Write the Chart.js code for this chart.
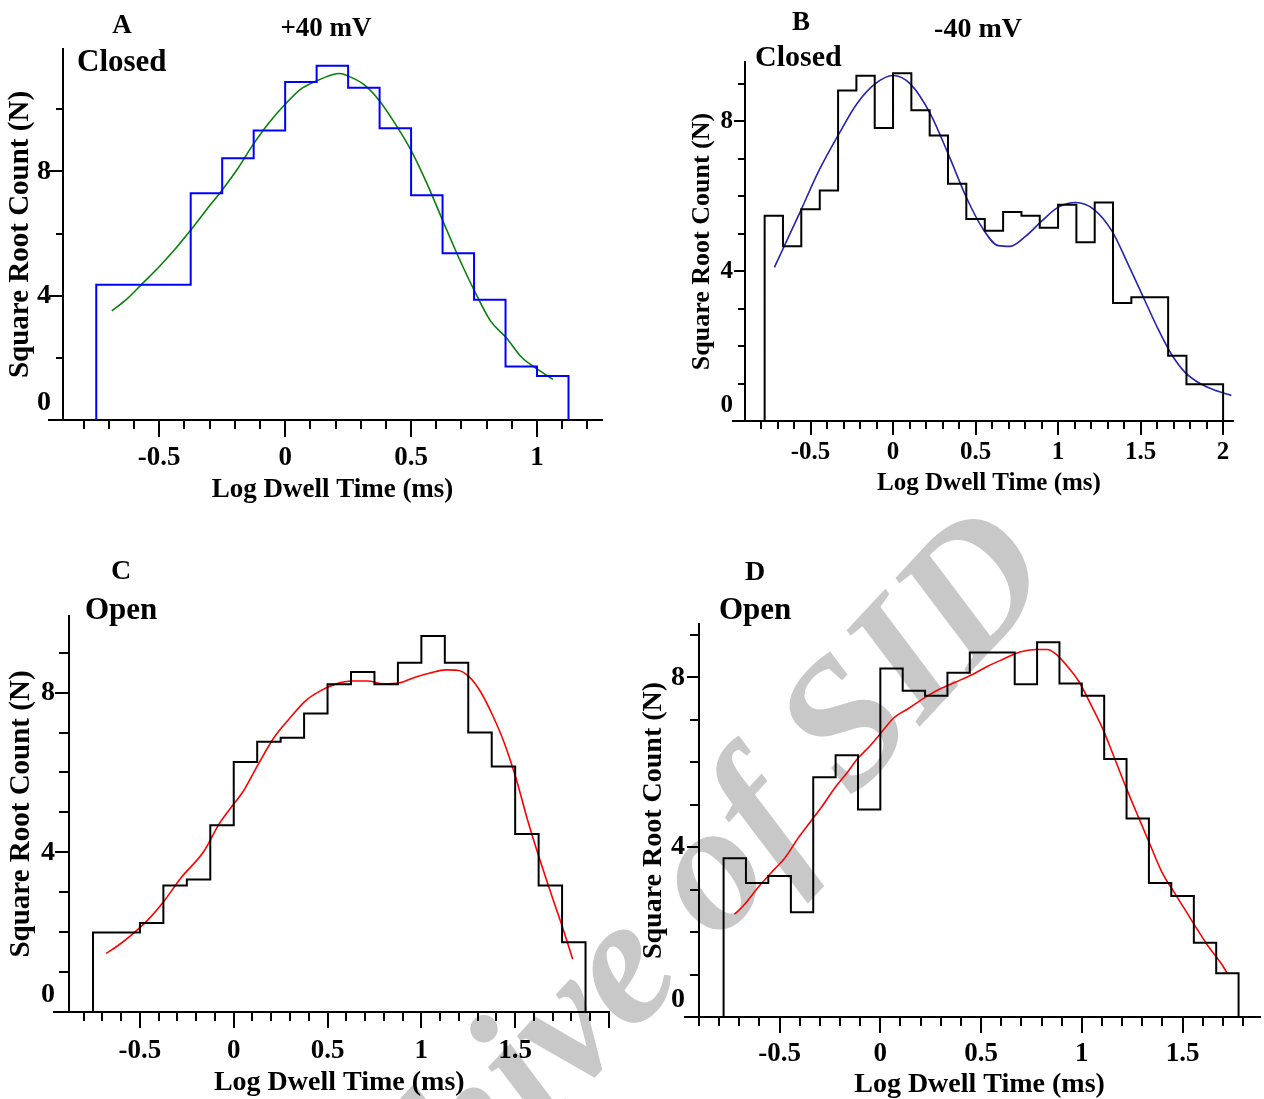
<!DOCTYPE html>
<html>
<head>
<meta charset="utf-8">
<title>Dwell time histograms</title>
<script src="https://cdn.jsdelivr.net/npm/chart.js@4.4.0/dist/chart.umd.min.js"></script>
<style>
  html, body { margin: 0; padding: 0; background: #fff; }
  body { width: 1264px; height: 1099px; position: relative; overflow: hidden; font-family: "Liberation Serif", "Times New Roman", serif; }
  canvas { position: absolute; }
  .lbl { position: absolute; font-weight: bold; line-height: 1; color: #000; white-space: nowrap; }
  .c { transform: translate(-50%, -50%); }
  .l { transform: translateY(-50%); }
  #mark { position: absolute; left: 628px; top: 950px; transform: translate(-50%, -50%) rotate(-47deg);
          font: italic bold 182px "Liberation Serif", serif; color: #c8c8c8; white-space: nowrap; line-height: 1; }
</style>
</head>
<body>
<div id="mark">Archive of SID</div>

<canvas id="chartA" width="632" height="520" style="left:0;top:0"></canvas>
<canvas id="chartB" width="632" height="520" style="left:632px;top:0"></canvas>
<canvas id="chartC" width="632" height="579" style="left:0;top:520px"></canvas>
<canvas id="chartD" width="632" height="579" style="left:632px;top:520px"></canvas>

<div class="lbl c" style="left:122px;top:24px;font-size:27px">A</div>
<div class="lbl c" style="left:326px;top:27px;font-size:27px">+40 mV</div>
<div class="lbl l" style="left:77px;top:60px;font-size:31px">Closed</div>
<div class="lbl c" style="left:801px;top:21px;font-size:27px">B</div>
<div class="lbl c" style="left:978px;top:28px;font-size:28px">-40 mV</div>
<div class="lbl l" style="left:755px;top:56px;font-size:30px">Closed</div>
<div class="lbl c" style="left:121px;top:570px;font-size:28px">C</div>
<div class="lbl l" style="left:85px;top:608px;font-size:31px">Open</div>
<div class="lbl c" style="left:755px;top:571px;font-size:28px">D</div>
<div class="lbl l" style="left:719px;top:608px;font-size:31px">Open</div>

<script>
// ---- data ----
// A: +40 mV closed
const edgesA = [-0.75, -0.375, -0.25, -0.125, 0, 0.125, 0.25, 0.375, 0.5, 0.625, 0.75, 0.875, 1.0, 1.125];
const countsA = [4.35, 7.3, 8.42, 9.32, 10.88, 11.4, 10.69, 9.39, 7.23, 5.37, 3.87, 1.72, 1.42];
const fitXA = [-0.688, -0.63, -0.567, -0.504, -0.441, -0.378, -0.316, -0.253, -0.19, -0.127, -0.064, 0, 0.061, 0.124, 0.187,
  0.218, 0.25, 0.312, 0.375, 0.438, 0.501, 0.564, 0.626, 0.689, 0.752, 0.815, 0.878, 0.94, 1.003, 1.063];
const fitYA = [3.51, 3.88, 4.39, 4.9, 5.46, 6.08, 6.73, 7.37, 8.07, 8.87, 9.57, 10.16, 10.64, 10.91, 11.11,
  11.15, 11.07, 10.8, 10.27, 9.52, 8.66, 7.59, 6.41, 5.23, 4.15, 3.19, 2.65, 2.01, 1.63, 1.31];

// B: -40 mV closed
const edgesB = [-0.778, -0.667, -0.556, -0.444, -0.333, -0.222, -0.111, 0, 0.111, 0.222, 0.333, 0.444, 0.556, 0.667,
  0.778, 0.889, 1.0, 1.111, 1.222, 1.333, 1.444, 1.667, 1.778, 2.0];
const countsB = [5.48, 4.66, 5.65, 6.15, 8.82, 9.21, 7.82, 9.28, 8.29, 7.62, 6.33, 5.39, 5.08, 5.58, 5.48, 5.16,
  5.77, 4.77, 5.83, 3.15, 3.3, 1.74, 0.98];
const fitXB = [-0.719, -0.569, -0.449, -0.328, -0.22, -0.111, 0, 0.106, 0.227, 0.335, 0.444, 0.54, 0.637, 0.709,
  0.806, 0.902, 0.999, 1.107, 1.216, 1.325, 1.433, 1.518, 1.602, 1.687, 1.771, 1.868, 1.964, 2.05];
const fitYB = [4.1, 5.52, 6.68, 7.66, 8.46, 8.99, 9.22, 8.99, 8.19, 7.12, 5.97, 5.16, 4.68, 4.66,
  4.94, 5.34, 5.7, 5.83, 5.65, 5.08, 4.1, 3.29, 2.49, 1.78, 1.29, 0.98, 0.8, 0.68];

// C: +40 mV open
const edgesC = [-0.75, -0.5, -0.375, -0.25, -0.125, 0, 0.125, 0.25, 0.375, 0.5, 0.625, 0.75, 0.875, 1.0, 1.125,
  1.25, 1.375, 1.5, 1.625, 1.75, 1.875];
const countsC = [1.99, 2.23, 3.17, 3.32, 4.68, 6.26, 6.77, 6.87, 7.48, 8.21, 8.52, 8.21, 8.75, 9.42, 8.75,
  7.0, 6.15, 4.46, 3.17, 1.75];
const fitXC = [-0.68, -0.618, -0.535, -0.451, -0.368, -0.285, -0.16, -0.077, 0, 0.048, 0.131, 0.214, 0.297, 0.381,
  0.464, 0.547, 0.63, 0.714, 0.797, 0.88, 0.963, 1.046, 1.13, 1.192, 1.254, 1.317, 1.379, 1.442, 1.504, 1.566,
  1.629, 1.691, 1.754, 1.806];
const fitYC = [1.47, 1.66, 1.97, 2.34, 2.8, 3.34, 4.02, 4.72, 5.21, 5.51, 6.21, 6.87, 7.35, 7.79,
  8.05, 8.22, 8.29, 8.29, 8.22, 8.24, 8.38, 8.49, 8.57, 8.56, 8.4, 8.01, 7.44, 6.74, 5.86, 4.81,
  3.85, 2.97, 2.1, 1.33];

// D: -40 mV open
const edgesD = [-0.778, -0.667, -0.556, -0.444, -0.333, -0.222, -0.111, 0, 0.111, 0.222, 0.333, 0.444, 0.667,
  0.778, 0.889, 1.0, 1.111, 1.222, 1.333, 1.444, 1.556, 1.667, 1.778];
const countsD = [3.74, 3.16, 3.32, 2.47, 5.65, 6.17, 4.89, 8.21, 7.69, 7.57, 8.11, 8.59, 7.84, 8.83, 7.86,
  7.57, 6.08, 4.68, 3.16, 2.85, 1.75, 1.03];
const fitXD = [-0.724, -0.68, -0.602, -0.524, -0.475, -0.406, -0.347, -0.288, -0.229, -0.171, -0.112, -0.053,
  0.006, 0.065, 0.143, 0.222, 0.3, 0.378, 0.457, 0.535, 0.614, 0.692, 0.771, 0.829, 0.869, 0.927, 0.986,
  1.045, 1.104, 1.163, 1.222, 1.28, 1.339, 1.398, 1.457, 1.516, 1.575, 1.633, 1.692, 1.722];
const fitYD = [2.42, 2.62, 3.08, 3.49, 3.74, 4.23, 4.6, 4.97, 5.38, 5.72, 6.09, 6.38,
  6.71, 7.04, 7.28, 7.53, 7.74, 7.9, 8.07, 8.27, 8.44, 8.6, 8.66, 8.66, 8.56, 8.27, 7.9,
  7.36, 6.79, 6.09, 5.38, 4.72, 4.06, 3.41, 2.95, 2.5, 2.05, 1.63, 1.26, 1.03];

// tick labels
const xLabelsA = [-0.5, 0, 0.5, 1];
const xLabelsB = [-0.5, 0, 0.5, 1, 1.5, 2];
const xLabelsC = [-0.5, 0, 0.5, 1, 1.5];
const xLabelsD = [-0.5, 0, 0.5, 1, 1.5];
const yLabels = [0, 4, 8];

const serif = '"Liberation Serif", "Times New Roman", serif';

function near(a, b) { return Math.abs(a - b) < 1e-6; }
function onStep(v, step) { const r = v / step; return Math.abs(r - Math.round(r)) < 1e-6; }

// short/long tick marks drawn on the library's scales, plus the bit of x axis left of the y axis
const tickMarks = {
  id: 'tickMarks',
  afterDraw(chart, args, o) {
    const {ctx, chartArea: a, scales: {x, y}} = chart;
    ctx.save();
    ctx.strokeStyle = '#000';
    ctx.lineWidth = 2;
    ctx.beginPath();
    x.ticks.forEach(t => {
      const px = Math.round(x.getPixelForValue(t.value));
      const len = onStep(t.value, 0.5) ? o.xMajor : o.xMinor;
      ctx.moveTo(px, a.bottom);
      ctx.lineTo(px, a.bottom + len);
    });
    y.ticks.forEach(t => {
      const py = Math.round(y.getPixelForValue(t.value));
      const len = onStep(t.value, 4) ? o.yMajor : o.yMinor;
      ctx.moveTo(a.left, py);
      ctx.lineTo(a.left - len, py);
    });
    ctx.moveTo(a.left - o.stub, a.bottom);
    ctx.lineTo(a.left, a.bottom);
    ctx.stroke();
    ctx.restore();
  }
};

function inRange(s) {
  s.ticks = s.ticks.filter(t => t.value >= s.min - 1e-9 && t.value <= s.max + 1e-9);
}

function panel(id, p) {
  const canvas = document.getElementById(id);
  const W = canvas.width, H = canvas.height;

  // histogram outline as corner points
  const hist = [{x: p.edges[0], y: 0}];
  p.counts.forEach((c, i) => {
    hist.push({x: p.edges[i], y: c});
    hist.push({x: p.edges[i + 1], y: c});
  });
  hist.push({x: p.edges[p.edges.length - 1], y: 0});
  const fit = p.fitX.map((v, i) => ({x: v, y: p.fitY[i]}));

  new Chart(canvas, {
    type: 'line',
    data: {
      datasets: [
        { data: hist, borderColor: p.histColor, borderWidth: 2, pointRadius: 0, fill: false, tension: 0,
          borderJoinStyle: 'miter' },
        { data: fit, borderColor: p.fitColor, borderWidth: 1.6, pointRadius: 0, fill: false,
          cubicInterpolationMode: 'monotone' }
      ]
    },
    options: {
      responsive: false,
      animation: false,
      layout: { padding: { top: p.area.top, right: W - p.area.right, left: 0, bottom: 0 } },
      plugins: {
        legend: { display: false },
        tooltip: { enabled: false },
        tickMarks: p.marks
      },
      scales: {
        x: {
          type: 'linear',
          min: p.xMin, max: p.xMax,
          grid: { display: false, drawTicks: false },
          border: { display: true, color: '#000', width: 2 },
          ticks: {
            stepSize: 0.1, autoSkip: false, includeBounds: false, maxRotation: 0, minRotation: 0,
            padding: p.xTickPad, color: '#000',
            font: { family: serif, size: p.xTickFont, weight: 'bold' },
            callback: v => {
              const hit = p.xLabels.find(l => near(l, v));
              return hit === undefined ? '' : String(hit);
            }
          },
          title: {
            display: true, text: 'Log Dwell Time (ms)', color: '#000',
            font: { family: serif, size: p.xTitleFont, weight: 'bold', lineHeight: 1 },
            padding: { top: 0, bottom: p.xTitlePad }
          },
          afterBuildTicks: inRange,
          afterFit: s => { s.height = H - p.area.bottom; }
        },
        y: {
          type: 'linear',
          min: 0, max: p.yMax,
          grid: { display: false, drawTicks: false },
          border: { display: true, color: '#000', width: 2 },
          ticks: {
            stepSize: p.yStep, autoSkip: false, includeBounds: false,
            padding: p.yTickPad, color: '#000',
            font: { family: serif, size: p.yTickFont, weight: 'bold' },
            callback: v => {
              if (!yLabels.some(l => near(l, v))) return '';
              return v === 0 ? ['0', ''] : String(v);
            }
          },
          title: {
            display: true, text: 'Square Root Count (N)', color: '#000',
            font: { family: serif, size: p.yTitleFont, weight: 'bold', lineHeight: 1 },
            padding: { top: p.yTitlePad, bottom: 0 }
          },
          afterBuildTicks: inRange,
          afterFit: s => { s.width = p.area.left; }
        }
      }
    },
    plugins: [tickMarks]
  });
}

panel('chartA', {
  edges: edgesA, counts: countsA, fitX: fitXA, fitY: fitYA, xLabels: xLabelsA,
  histColor: '#0000ff', fitColor: '#0a800a',
  area: { left: 63, right: 602, top: 49, bottom: 420 },
  xMin: -0.882, xMax: 1.258, yMax: 11.94, yStep: 2,
  xTickPad: 22, xTickFont: 27, xTitleFont: 27, xTitlePad: 16,
  yTickPad: 12, yTickFont: 28, yTitleFont: 29, yTitlePad: 6,
  marks: { xMajor: 17, xMinor: 9, yMajor: 14, yMinor: 7, stub: 15 }
});

panel('chartB', {
  edges: edgesB, counts: countsB, fitX: fitXB, fitY: fitYB, xLabels: xLabelsB,
  histColor: '#000000', fitColor: '#2424b0',
  area: { left: 113, right: 601, top: 62, bottom: 421 },
  xMin: -0.897, xMax: 2.06, yMax: 9.58, yStep: 1,
  xTickPad: 17, xTickFont: 25, xTitleFont: 25, xTitlePad: 24,
  yTickPad: 12, yTickFont: 25, yTitleFont: 26, yTitlePad: 57,
  marks: { xMajor: 14, xMinor: 8, yMajor: 11, yMinor: 7, stub: 13 }
});

panel('chartC', {
  edges: edgesC, counts: countsC, fitX: fitXC, fitY: fitYC, xLabels: xLabelsC,
  histColor: '#000000', fitColor: '#ff0000',
  area: { left: 69, right: 617, top: 96, bottom: 492 },
  xMin: -0.878, xMax: 2.003, yMax: 9.92, yStep: 1,
  xTickPad: 23, xTickFont: 27, xTitleFont: 28, xTitlePad: 2,
  yTickPad: 14, yTickFont: 28, yTitleFont: 29, yTitlePad: 7,
  marks: { xMajor: 16, xMinor: 9, yMajor: 14, yMinor: 10, stub: 16 }
});

panel('chartD', {
  edges: edgesD, counts: countsD, fitX: fitXD, fitY: fitYD, xLabels: xLabelsD,
  histColor: '#000000', fitColor: '#ff0000',
  area: { left: 67, right: 632, top: 104, bottom: 497 },
  xMin: -0.9, xMax: 1.885, yMax: 9.26, yStep: 1,
  xTickPad: 21, xTickFont: 27, xTitleFont: 28, xTitlePad: 0,
  yTickPad: 14, yTickFont: 28, yTitleFont: 28, yTitlePad: 8,
  marks: { xMajor: 16, xMinor: 9, yMajor: 12, yMinor: 9, stub: 15 }
});
</script>
</body>
</html>
